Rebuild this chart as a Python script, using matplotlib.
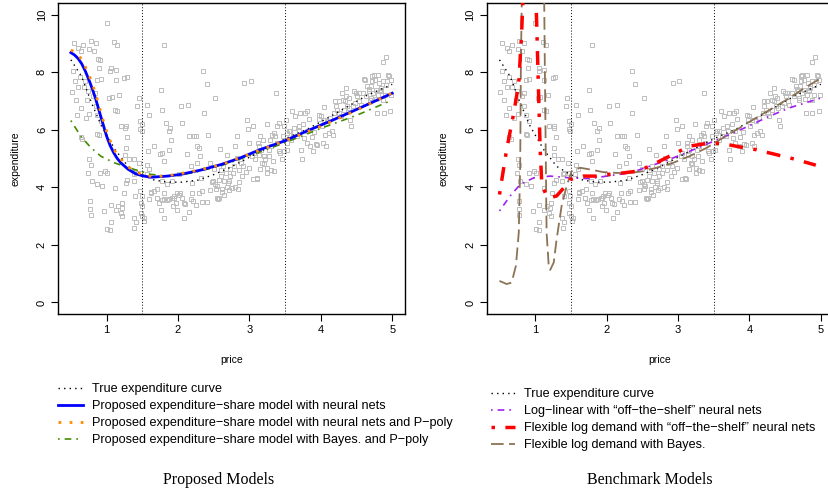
import matplotlib
matplotlib.use("Agg")
import matplotlib.pyplot as plt
import numpy as np
from matplotlib.lines import Line2D

plt.rcParams["font.family"] = ["Liberation Sans", "DejaVu Sans"]

price_obs = [
    0.54, 0.53, 0.51, 0.56, 0.60, 0.64, 0.67, 0.63, 0.60, 0.57, 0.59, 0.64, 0.68, 0.70, 0.74, 0.73, 0.76, 0.71,
    0.66, 0.64, 0.78, 0.76, 0.82, 0.85, 0.88, 0.91, 0.90, 0.87, 0.92, 0.84, 0.81, 0.85, 0.87, 0.92, 0.87, 0.89,
    0.76, 0.78, 0.74, 0.79, 0.77, 0.77, 0.78, 0.87, 0.91, 0.94, 0.98, 1.01, 0.97, 1.01, 1.05, 1.06, 1.12, 1.06,
    1.13, 1.00, 1.11, 1.15, 1.06, 1.05, 1.13, 1.04, 1.07, 1.13, 1.18, 1.12, 1.15, 1.25, 1.28, 1.20, 1.27, 1.26,
    1.29, 1.27, 1.26, 1.32, 1.29, 1.27, 1.24, 1.22, 1.21, 1.22, 1.16, 1.20, 1.38, 1.41, 1.39, 1.38, 1.40, 1.38,
    1.41, 1.39, 1.45, 1.43, 1.47, 1.50, 1.47, 1.49, 1.46, 1.47, 1.47, 1.49, 1.48, 1.50, 1.48, 1.50, 1.53, 1.52,
    1.57, 1.60, 1.58, 1.57, 1.60, 1.56, 1.62, 1.60, 1.67, 1.70, 1.71, 1.76, 1.77, 1.75, 1.78, 1.80, 1.78, 1.80,
    1.81, 1.81, 1.80, 1.83, 1.84, 1.87, 1.87, 1.89, 1.90, 1.91, 1.92, 1.93, 1.95, 1.97, 1.99, 2.04, 2.05, 2.03,
    2.01, 2.06, 2.08, 2.09, 2.12, 2.14, 2.15, 2.18, 2.19, 2.20, 2.21, 2.22, 2.25, 2.26, 2.27, 2.29, 2.31, 2.32,
    2.33, 2.33, 2.35, 2.36, 2.40, 2.42, 2.45, 2.47, 2.49, 2.50, 2.52, 2.53, 2.54, 2.55, 2.56, 2.57, 2.59, 2.60,
    2.60, 2.62, 2.63, 2.64, 2.65, 2.67, 2.69, 2.70, 2.71, 2.73, 2.73, 2.75, 2.77, 2.78, 2.80, 2.82, 2.83, 2.84,
    2.85, 2.87, 2.88, 2.91, 2.93, 2.97, 2.98, 2.99, 3.00, 3.02, 3.04, 3.05, 3.06, 3.08, 3.10, 3.11, 3.12, 3.13,
    3.14, 3.15, 3.16, 3.18, 3.19, 3.20, 3.22, 3.24, 3.25, 3.27, 3.28, 3.29, 3.30, 3.32, 3.33, 3.34, 3.35, 3.36,
    3.37, 3.38, 3.39, 3.41, 3.42, 3.43, 3.46, 3.47, 3.48, 3.49, 3.51, 3.52, 3.53, 3.53, 3.55, 3.57, 3.58, 3.60,
    3.61, 3.63, 3.64, 3.67, 3.69, 3.70, 3.71, 3.72, 3.73, 3.75, 3.77, 3.78, 3.80, 3.80, 3.81, 3.83, 3.85, 3.87,
    3.89, 3.91, 3.93, 3.95, 3.97, 3.98, 4.00, 4.01, 4.03, 4.04, 4.05, 4.06, 4.07, 4.09, 4.11, 4.13, 4.15, 4.17,
    4.19, 4.20, 4.21, 4.23, 4.25, 4.26, 4.28, 4.29, 4.31, 4.32, 4.34, 4.35, 4.36, 4.37, 4.39, 4.40, 4.41, 4.43,
    4.45, 4.47, 4.48, 4.50, 4.51, 4.53, 4.54, 4.56, 4.59, 4.60, 4.62, 4.63, 4.65, 4.67, 4.68, 4.69, 4.70, 4.71,
    4.72, 4.73, 4.74, 4.76, 4.77, 4.78, 4.79, 4.80, 4.82, 4.83, 4.84, 4.85, 4.87, 4.87, 4.88, 4.90, 4.91, 4.92,
    4.93, 4.94, 4.96, 4.97, 4.98, 4.99, 4.87, 4.80, 4.72,
    1.62, 1.66, 1.70, 1.73, 1.76, 1.78, 1.85, 1.88, 1.94, 1.98, 2.02, 2.10, 2.15, 2.18, 2.25, 2.30, 2.40, 2.45,
    2.52, 2.58, 2.62, 2.68, 2.72, 2.80, 2.85, 2.90, 2.95, 3.05, 3.15, 3.20, 3.25, 3.30,
]
expend_obs = [
    9.03, 8.05, 7.31, 7.68, 8.83, 8.72, 8.95, 7.83, 7.47, 7.02, 6.52, 6.76, 7.48, 7.68, 7.33, 7.04, 6.56, 6.41,
    5.68, 5.75, 9.10, 8.80, 8.72, 9.01, 8.45, 8.41, 8.14, 7.74, 7.78, 7.27, 7.16, 6.81, 6.52, 6.29, 5.87, 5.83,
    4.97, 4.79, 4.50, 4.21, 3.52, 3.23, 3.03, 4.10, 4.50, 4.04, 4.56, 4.50, 3.18, 2.54, 2.52, 2.79, 3.98, 3.37,
    3.21, 9.71, 9.06, 8.95, 8.14, 8.03, 8.08, 7.10, 7.14, 7.74, 7.22, 6.70, 6.64, 7.79, 7.82, 6.12, 6.12, 6.06,
    5.75, 5.37, 5.14, 4.99, 4.27, 4.16, 3.79, 3.46, 3.29, 3.00, 3.35, 3.12, 4.99, 4.50, 4.45, 4.21, 3.70, 2.94,
    2.79, 2.60, 7.10, 6.81, 6.29, 6.21, 6.03, 5.95, 4.85, 4.50, 3.87, 3.70, 3.46, 3.35, 3.12, 3.00, 2.94, 2.83,
    6.87, 6.52, 5.25, 4.79, 4.62, 4.45, 3.81, 3.60, 5.43, 3.64, 3.93, 7.37, 6.70, 5.17, 5.20, 4.91, 4.21, 3.81,
    3.60, 2.94, 8.94, 6.24, 4.10, 5.31, 5.95, 6.06, 5.66, 4.21, 3.64, 3.35, 3.70, 3.46, 3.21, 6.81, 6.24, 3.81,
    4.45, 3.64, 3.46, 2.92, 5.17, 6.85, 5.80, 4.73, 4.16, 3.81, 3.52, 5.77, 5.80, 5.43, 4.85, 5.37, 5.08, 4.33,
    3.87, 3.49, 8.03, 6.58, 7.59, 5.83, 4.85, 4.18, 4.21, 4.62, 7.09, 3.93, 4.04, 3.64, 3.60, 4.27, 5.33, 4.39,
    4.60, 3.93, 4.73, 4.21, 3.75, 4.50, 5.13, 4.16, 4.21, 4.62, 4.39, 3.98, 4.50, 4.73, 5.43, 5.02, 5.77, 3.95,
    4.60, 4.99, 4.85, 4.73, 7.64, 6.35, 6.03, 4.68, 5.54, 7.68, 5.08, 6.14, 5.20, 4.97, 4.33, 4.30, 5.54, 5.43,
    5.14, 5.77, 5.31, 4.83, 5.66, 5.08, 4.97, 6.21, 4.68, 5.31, 5.08, 5.66, 5.43, 5.83, 4.91, 4.56, 5.89, 5.77,
    7.27, 5.54, 6.12, 6.24, 5.25, 5.20, 4.97, 5.77, 6.12, 5.25, 6.35, 5.31, 5.89, 5.54, 5.95, 5.95, 5.66, 6.64,
    5.77, 6.06, 6.47, 5.77, 6.12, 5.95, 6.58, 5.31, 4.97, 6.21, 5.72, 6.58, 5.95, 5.54, 6.64, 6.37, 5.43, 5.75,
    5.25, 5.91, 5.51, 5.48, 6.52, 6.37, 6.47, 6.12, 5.54, 6.35, 6.79, 5.83, 5.45, 6.29, 5.89, 6.41, 5.95, 5.83,
    6.58, 6.99, 6.81, 6.70, 6.99, 6.58, 6.47, 7.27, 7.04, 6.70, 6.99, 7.45, 7.16, 6.81, 7.10, 6.76, 6.35, 6.12,
    6.81, 7.33, 6.93, 7.27, 7.16, 7.27, 6.99, 6.87, 7.27, 7.76, 7.74, 7.16, 7.51, 7.41, 7.33, 7.04, 7.10, 7.51,
    7.68, 7.27, 7.91, 7.74, 7.39, 7.07, 6.58, 7.22, 7.62, 7.39, 7.33, 7.45, 7.04, 7.68, 6.58, 7.22, 7.56, 8.52,
    7.68, 7.91, 7.88, 6.64, 7.74, 7.22, 8.34, 7.91, 7.88,
    3.85, 3.88, 3.62, 3.45, 3.20, 3.55, 3.55, 3.59, 3.63, 3.80, 3.75, 3.43, 3.15, 3.59, 3.40, 3.80, 3.50, 3.90,
    4.10, 3.62, 3.84, 4.00, 3.90, 4.00, 4.20, 4.40, 4.55, 4.30, 4.65, 4.80, 4.50, 4.60,
]

# true expenditure curve
true_x = [0.50, 0.65, 0.79, 0.93, 1.12, 1.30, 1.49, 1.67, 1.86, 2.05, 2.28, 2.51, 2.74, 2.98, 3.26, 3.53,
          3.81, 4.09, 4.37, 4.65, 4.93, 5.00]
true_y = [8.43, 7.85, 6.93, 6.12, 5.31, 4.73, 4.45, 4.25, 4.18, 4.18, 4.25, 4.45, 4.70, 5.02, 5.38, 5.72,
          6.02, 6.40, 6.80, 7.20, 7.50, 7.58]

# proposed models
nn_x = [0.50, 0.55, 0.60, 0.65, 0.70, 0.75, 0.80, 0.85, 0.90, 0.95, 1.00, 1.05, 1.10, 1.15, 1.20, 1.30,
        1.40, 1.50, 1.62, 1.85, 2.04, 2.32, 2.60, 2.87, 3.15, 3.48, 3.80, 4.18, 4.55, 5.00]
nn_y = [8.68, 8.60, 8.48, 8.30, 8.05, 7.75, 7.42, 7.05, 6.62, 6.20, 5.78, 5.45, 5.20, 5.00, 4.85, 4.63,
        4.48, 4.40, 4.35, 4.39, 4.45, 4.60, 4.79, 5.02, 5.31, 5.60, 5.95, 6.35, 6.76, 7.27]
nnpoly_x = [0.50, 0.56, 0.62, 0.67, 0.72, 0.77, 0.82, 0.87, 0.92, 0.97, 1.02, 1.07, 1.12, 1.18, 1.25, 1.32,
            1.40, 1.55, 1.70, 1.90, 2.20, 2.60, 3.00, 3.50, 4.00, 4.50, 5.00]
nnpoly_y = [8.77, 8.70, 8.55, 8.35, 8.10, 7.80, 7.45, 7.05, 6.60, 6.18, 5.80, 5.50, 5.25, 5.03, 4.85, 4.68,
            4.55, 4.40, 4.37, 4.42, 4.55, 4.78, 5.15, 5.62, 6.12, 6.68, 7.28]
bayes_x = [0.50, 0.64, 0.78, 0.92, 1.11, 1.39, 1.62, 1.85, 2.20, 2.60, 3.00, 3.50, 4.00, 4.50, 5.00]
bayes_y = [6.32, 5.77, 5.38, 5.08, 4.85, 4.62, 4.45, 4.39, 4.50, 4.75, 5.10, 5.55, 6.05, 6.50, 7.03]

# benchmark models
loglin_x = [0.50, 0.65, 0.79, 0.98, 1.21, 1.49, 1.77, 2.05, 2.33, 2.60, 2.88, 3.16, 3.44, 3.72, 4.00, 4.28,
            4.56, 5.00]
loglin_y = [3.18, 3.70, 4.10, 4.33, 4.39, 4.33, 4.30, 4.41, 4.50, 4.73, 4.97, 5.25, 5.54, 5.83, 6.14, 6.47,
            6.76, 7.10]
flex_x = [0.50, 0.60, 0.70, 0.77, 0.81, 0.85, 0.99, 1.02, 1.05, 1.07, 1.09, 1.12, 1.16, 1.21, 1.30, 1.40,
          1.49, 1.67, 1.86, 2.05, 2.23, 2.42, 2.60, 2.88, 3.16, 3.44, 3.63, 3.81, 4.09, 4.37, 4.65, 4.93]
flex_y = [3.75, 5.31, 6.58, 7.62, 9.35, 12.0, 12.0, 9.80, 7.04, 5.31, 4.27, 3.93, 3.70, 3.64, 3.70, 3.98,
          4.27, 4.39, 4.39, 4.45, 4.50, 4.56, 4.73, 5.08, 5.43, 5.54, 5.52, 5.43, 5.31, 5.14, 4.97, 4.77]
flexb_x = [0.50, 0.60, 0.67, 0.73, 0.77, 0.79, 0.80, 0.82, 1.12, 1.14, 1.15, 1.16, 1.19, 1.21, 1.26, 1.30,
           1.37, 1.44, 1.51, 1.63, 1.77, 1.95, 2.14, 2.33, 2.51, 2.70, 2.93, 3.16, 3.40, 3.63, 3.86, 4.09,
           4.33, 4.56, 4.79, 5.00]
flexb_y = [0.75, 0.64, 0.69, 1.27, 2.42, 4.73, 8.20, 12.0, 12.0, 7.04, 4.73, 2.42, 1.27, 1.13, 1.39, 2.19,
           3.35, 4.04, 4.56, 4.68, 4.62, 4.53, 4.50, 4.50, 4.56, 4.68, 4.85, 5.08, 5.37, 5.72, 6.06, 6.41,
           6.76, 7.10, 7.48, 7.79]

cut_points = [1.5, 3.5]

labels_left = ["True expenditure curve",
               "Proposed expenditure\u2212share model with neural nets",
               "Proposed expenditure\u2212share model with neural nets and P\u2212poly",
               "Proposed expenditure\u2212share model with Bayes. and P\u2212poly"]
labels_right = ["True expenditure curve",
                "Log\u2212linear with \u201coff\u2212the\u2212shelf\u201d neural nets",
                "Flexible log demand with \u201coff\u2212the\u2212shelf\u201d neural nets",
                "Flexible log demand with Bayes."]

GREY = "#bdbdbd"
styles = {
    "true": dict(color="black", lw=1.0, dashes=(1, 3)),
    "nn": dict(color="#0000ff", lw=2.0, linestyle="-"),
    "nnpoly": dict(color="#ff8c00", lw=2.0, dashes=(1, 3)),
    "bayes": dict(color="#458b00", lw=1.2, dashes=(1, 3, 4, 3)),
    "loglin": dict(color="#a020f0", lw=1.2, dashes=(1, 3, 4, 3)),
    "flex": dict(color="#ff0000", lw=2.5, dashes=(1, 3, 4, 3)),
    "flexb": dict(color="#8b7355", lw=1.3, dashes=(7, 3)),
}

fig = plt.figure(figsize=(8.29, 4.95), dpi=100)
ax1 = fig.add_axes([0.070, 0.3657, 0.4186, 0.628])
ax2 = fig.add_axes([0.587, 0.3657, 0.4186, 0.628])


def base_panel(ax):
    ax.plot(price_obs, expend_obs, linestyle="none", marker="s", ms=3.0, mfc="none",
            mec=GREY, mew=0.7, zorder=1)
    for c in cut_points:
        ax.axvline(c, color="black", lw=0.7, dashes=(1, 2), zorder=2)
    ax.set_xlim(0.32, 5.18)
    ax.set_ylim(-0.4, 10.4)
    ax.set_xticks([1, 2, 3, 4, 5])
    ax.set_yticks([0, 2, 4, 6, 8, 10])
    ax.tick_params(direction="out", length=5, width=0.8, labelsize=8, pad=3)
    for lab in ax.get_yticklabels():
        lab.set_rotation(90)
        lab.set_va("center")
    ax.set_xlabel("price", fontsize=7.5, labelpad=14)
    ax.set_ylabel("expenditure", fontsize=7.5, labelpad=12)
    for s in ax.spines.values():
        s.set_linewidth(1.0)
    ax.plot(true_x, true_y, zorder=3, **styles["true"])


base_panel(ax1)
ax1.plot(bayes_x, bayes_y, zorder=3, **styles["bayes"])
ax1.plot(nn_x, nn_y, zorder=4, **styles["nn"])
ax1.plot(nnpoly_x, nnpoly_y, zorder=5, **styles["nnpoly"])

base_panel(ax2)
ax2.plot(loglin_x, loglin_y, zorder=3, **styles["loglin"])
ax2.plot(flexb_x, flexb_y, zorder=4, **styles["flexb"])
ax2.plot(flex_x, flex_y, zorder=5, **styles["flex"])

h_left = [Line2D([], [], **styles[k]) for k in ["true", "nn", "nnpoly", "bayes"]]
h_right = [Line2D([], [], **styles[k]) for k in ["true", "loglin", "flex", "flexb"]]
fig.legend(h_left, labels_left, loc="upper left", bbox_to_anchor=(0.064, 0.236), frameon=False,
           fontsize=9.1, handlelength=2.0, handletextpad=0.7, labelspacing=0.4, borderaxespad=0)
fig.legend(h_right, labels_right, loc="upper left", bbox_to_anchor=(0.586, 0.226), frameon=False,
           fontsize=9.1, handlelength=1.9, handletextpad=0.7, labelspacing=0.4, borderaxespad=0)

fig.text(0.264, 0.030, "Proposed Models", ha="center", va="center", fontsize=11.5,
         family="Liberation Serif")
fig.text(0.784, 0.030, "Benchmark Models", ha="center", va="center", fontsize=11.5,
         family="Liberation Serif")

fig.savefig("out.png", dpi=100)
